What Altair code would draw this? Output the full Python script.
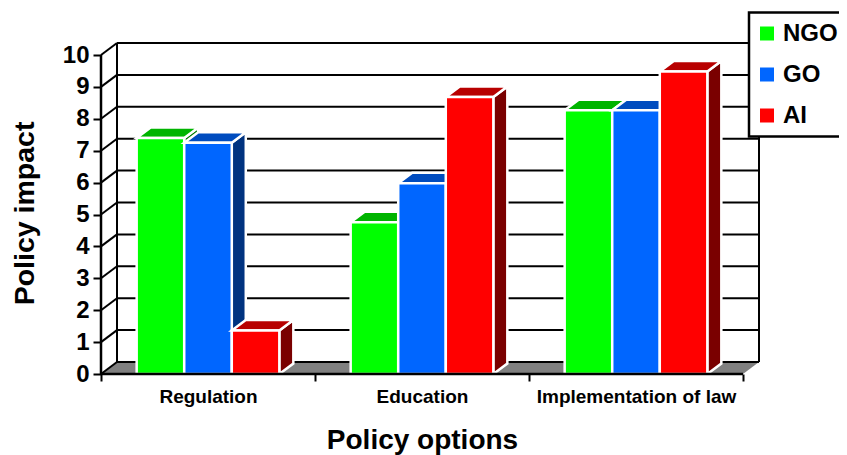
import altair as alt
import pandas as pd

categories = ["Regulation", "Education", "Implementation of law"]
series = ["NGO", "GO", "AI"]
ngo = [7.4, 4.76, 8.27]
go = [7.25, 5.98, 8.27]
ai = [1.36, 8.68, 9.48]
values = {"NGO": ngo, "GO": go, "AI": ai}
front = {"NGO": "#00ff00", "GO": "#0066ff", "AI": "#ff0000"}
top = {"NGO": "#00b400", "GO": "#004cbf", "AI": "#b80000"}
side = {"NGO": "#007a00", "GO": "#003380", "AI": "#7a0000"}
y_ticks = list(range(0, 11))

FONT = "Liberation Sans"
PX_X = 214.0   # px per category band
PX_Y = 31.9    # px per value unit
WALL_DX, WALL_DY = 16 / PX_X, 12 / PX_Y
BAR_DX, BAR_DY = 14 / PX_X, 10.5 / PX_Y
XMAX = 3 + WALL_DX
YMAX = 10 + WALL_DY
W, H = 658, 331

label_expr = " : ".join(
    f"datum.value == {i + 0.5} ? '{c}'" for i, c in enumerate(categories)
) + " : ''"

x_scale = alt.Scale(domain=[0, XMAX], range=[0, W], nice=False, zero=False)
y_scale = alt.Scale(domain=[0, YMAX], range=[H, 0], nice=False, zero=False)
x_axis = alt.Axis(
    title="Policy options", values=[0, 0.5, 1, 1.5, 2, 2.5, 3],
    labelExpr=label_expr, domain=False, grid=False,
    tickColor="black", tickWidth=2, tickSize=7,
    tickOpacity={"condition": {"test": "datum.value % 1 == 0", "value": 1}, "value": 0},
    labelFont=FONT, labelFontWeight="bold", labelFontSize=19, labelColor="black",
    labelPadding=6, labelOverlap=False, labelFlush=False, labelBound=False, labelLimit=400,
    titleFont=FONT, titleFontWeight="bold", titleFontSize=28, titleColor="black",
    titleX=321, titleY=74, titleBaseline="alphabetic",
)
y_axis = alt.Axis(
    title="Policy impact", values=y_ticks, format="d",
    domain=False, grid=False,
    tickColor="black", tickWidth=2, tickSize=8,
    labelFont=FONT, labelFontWeight="bold", labelFontSize=24, labelColor="black",
    labelPadding=4, labelOverlap=False, labelBound=False,
    titleFont=FONT, titleFontWeight="bold", titleFontSize=28.5, titleColor="black",
    titleX=-68, titleY=170, titleBaseline="alphabetic",
)
X = alt.X("x:Q", scale=x_scale, axis=x_axis)
Y = alt.Y("y:Q", scale=y_scale, axis=y_axis)


def rules(rows, color="black", width=2):
    return alt.Chart(pd.DataFrame(rows, columns=["x", "x2", "y", "y2"])).mark_rule(
        color=color, strokeWidth=width
    ).encode(x=X, x2="x2:Q", y=Y, y2="y2:Q")


# floor
floor = pd.DataFrame({
    "x": [0, WALL_DX, 3, XMAX],
    "y": [0, 0, 0, WALL_DY],
    "y2": [0, WALL_DY, WALL_DY, WALL_DY],
})
layers = [alt.Chart(floor).mark_area(color="#808080").encode(x=X, y=Y, y2="y2:Q")]

# back walls and gridlines
grid_rows = []
for v in y_ticks:
    grid_rows.append([0, WALL_DX, v, v + WALL_DY])
    grid_rows.append([WALL_DX, XMAX, v + WALL_DY, v + WALL_DY])
grid_rows.append([WALL_DX, WALL_DX, WALL_DY, YMAX])
grid_rows.append([XMAX, XMAX, WALL_DY, YMAX])
layers.append(rules(grid_rows))

# bars
bar_w = 2 / 9
for si, s in enumerate(series):
    side_rows, top_rows, front_rows = [], [], []
    for g, v in enumerate(values[s]):
        x0 = g + 1 / 6 + si * bar_w
        x1 = x0 + bar_w
        side_rows += [
            {"g": g, "x": x1, "y": 0, "y2": v},
            {"g": g, "x": x1 + BAR_DX, "y": BAR_DY, "y2": v + BAR_DY},
        ]
        top_rows += [
            {"g": g, "x": x0, "y": v, "y2": v},
            {"g": g, "x": x0 + BAR_DX, "y": v, "y2": v + BAR_DY},
            {"g": g, "x": x1, "y": v, "y2": v + BAR_DY},
            {"g": g, "x": x1 + BAR_DX, "y": v + BAR_DY, "y2": v + BAR_DY},
        ]
        front_rows.append({"series": s, "x": x0, "x2": x1, "y": 0, "y2": v})
    layers.append(
        alt.Chart(pd.DataFrame(side_rows)).mark_area(
            color=side[s], stroke="white", strokeWidth=2.5
        ).encode(x=X, y=Y, y2="y2:Q", detail="g:N")
    )
    layers.append(
        alt.Chart(pd.DataFrame(top_rows)).mark_area(
            color=top[s], stroke="white", strokeWidth=2.5
        ).encode(x=X, y=Y, y2="y2:Q", detail="g:N")
    )
    layers.append(
        alt.Chart(pd.DataFrame(front_rows)).mark_rect(
            stroke="white", strokeWidth=2.5
        ).encode(
            x=X, x2="x2:Q", y=Y, y2="y2:Q",
            fill=alt.Fill(
                "series:N",
                scale=alt.Scale(domain=series, range=[front[s_] for s_ in series]),
                legend=alt.Legend(
                    title=None, orient="none", legendX=648, legendY=-30.5,
                    fillColor="white", strokeColor="black", padding=9,
                    symbolType="square", symbolSize=196, symbolStrokeWidth=0,
                    symbolOffset=-3, labelOffset=4, labelFont=FONT,
                    labelFontSize=24, labelFontWeight="bold", labelColor="black",
                    rowPadding=17, labelLimit=200, zindex=1,
                ),
            ),
        )
    )

# front axes
layers.append(rules([[0, 3, 0, 0], [0, 0, 0, 10]], width=2.5))

chart = alt.layer(*layers).properties(
    width=W, height=H,
    autosize=alt.AutoSizeParams(type="none"),
    padding={"left": 93, "top": 35, "right": 80, "bottom": 81},
    background="white",
).configure_view(stroke=None).configure_legend(strokeWidth=2.5)

chart.save("out.html", embed_options={"renderer": "svg", "actions": False})
